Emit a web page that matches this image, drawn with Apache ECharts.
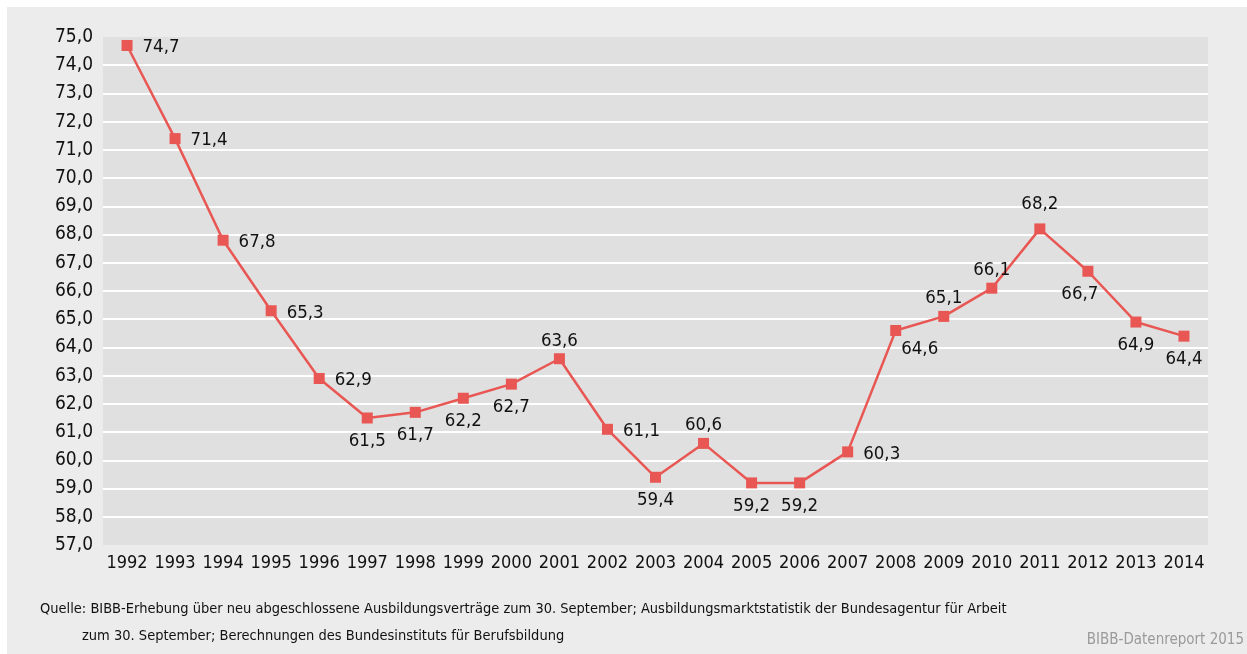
<!DOCTYPE html>
<html>
<head>
<meta charset="utf-8">
<script src="https://cdn.jsdelivr.net/npm/echarts@6/dist/echarts.min.js"></script>
<style>
html,body{margin:0;padding:0;background:#fff;}
#c{width:1247px;height:654px;}
</style>
</head>
<body>
<div id="c"></div>
<script>
const years = ['1992','1993','1994','1995','1996','1997','1998','1999','2000','2001','2002','2003','2004','2005','2006','2007','2008','2009','2010','2011','2012','2013','2014'];
const values = [74.7,71.4,67.8,65.3,62.9,61.5,61.7,62.2,62.7,63.6,61.1,59.4,60.6,59.2,59.2,60.3,64.6,65.1,66.1,68.2,66.7,64.9,64.4];
const labelPos = ['right','right','right','right','right','bottom','bottom','bottom','bottom','top','right','bottom','top','bottom','bottom','right','bottomright','top','top','topfar','bottomleft','bottom','bottom'];
const yMin = 57, yMax = 75, yStep = 1;
const sourceLine1 = 'Quelle: BIBB-Erhebung über neu abgeschlossene Ausbildungsverträge zum 30. September; Ausbildungsmarktstatistik der Bundesagentur für Arbeit';
const sourceLine2 = 'zum 30. September; Berechnungen des Bundesinstituts für Berufsbildung';
const credit = 'BIBB-Datenreport 2015';

const FONT = '"DejaVu Sans Condensed", "DejaVu Sans", sans-serif';
const fmt = v => v.toFixed(1).replace('.', ',');

const data = values.map((v, i) => {
  const p = labelPos[i];
  let label;
  if (p === 'right') label = {position: 'right', distance: 10, offset: [0, 2]};
  else if (p === 'top') label = {position: 'top', distance: 3};
  else if (p === 'topfar') label = {position: 'top', distance: 10};
  else if (p === 'bottom') label = {position: 'bottom', distance: 8};
  else if (p === 'bottomright') label = {position: 'bottom', offset: [24, 0], distance: 4};
  else if (p === 'bottomleft') label = {position: 'bottom', offset: [-8, 0], distance: 8};
  return {value: v, label};
});

const chart = echarts.init(document.getElementById('c'), null, {renderer: 'canvas'});
chart.setOption({
  animation: false,
  backgroundColor: '#ffffff',
  graphic: [
    {type: 'rect', z: -10, shape: {x: 7, y: 7, width: 1240, height: 647}, style: {fill: '#ececec'}, silent: true},
    {type: 'text', left: 40, top: 602, style: {text: sourceLine1, font: '14.5px ' + FONT, fill: '#111'}},
    {type: 'text', left: 82, top: 629, style: {text: sourceLine2, font: '14.5px ' + FONT, fill: '#111'}},
    {type: 'text', right: 3, top: 633, style: {text: credit, font: '15px ' + FONT, fill: '#9a9a9a'}}
  ],
  grid: {left: 103, top: 37, width: 1105, height: 508, show: true, backgroundColor: '#e0e0e0', borderWidth: 0},
  xAxis: {
    type: 'category', data: years, boundaryGap: true,
    axisLine: {show: false}, axisTick: {show: false},
    axisLabel: {color: '#111', fontSize: 18, fontFamily: FONT, margin: 9, interval: 0}
  },
  yAxis: {
    type: 'value', min: yMin, max: yMax, interval: yStep,
    axisLine: {show: false}, axisTick: {show: false},
    axisLabel: {color: '#111', fontSize: 19, fontFamily: FONT, margin: 10, formatter: v => fmt(v)},
    splitLine: {show: true, showMinLine: false, showMaxLine: false, lineStyle: {color: '#ffffff', width: 2}}
  },
  series: [{
    type: 'line', data: data,
    symbol: 'rect', symbolSize: 11,
    itemStyle: {color: '#e85753'},
    lineStyle: {color: '#e85753', width: 2.5},
    label: {show: true, color: '#111', fontSize: 18.5, fontFamily: FONT, formatter: p => fmt(p.value)}
  }]
});
</script>
</body>
</html>
